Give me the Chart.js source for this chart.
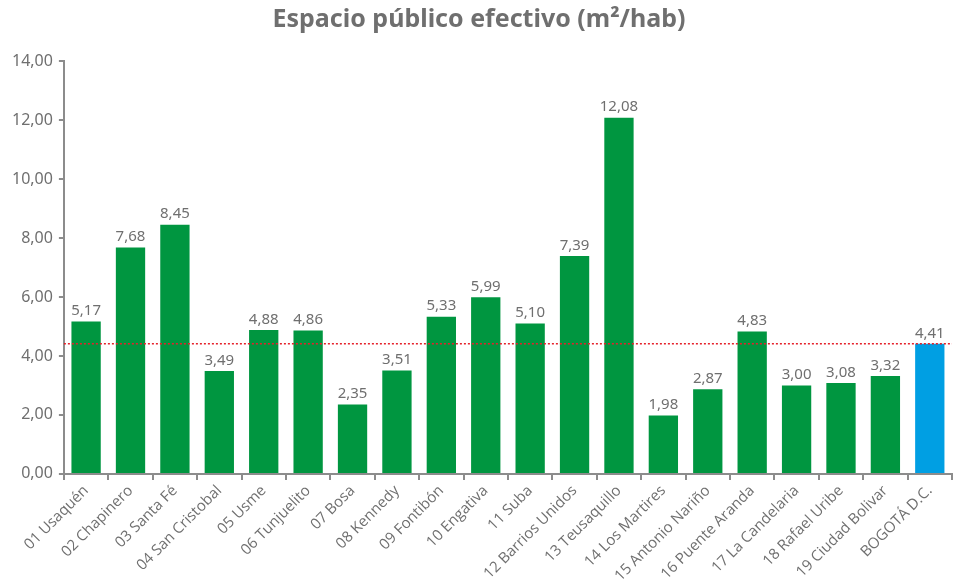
<!DOCTYPE html>
<html>
<head>
<meta charset="utf-8">
<script src="https://cdn.jsdelivr.net/npm/chart.js@4/dist/chart.umd.min.js"></script>
<style>
  html, body { margin: 0; padding: 0; background: #fff; }
  #wrap { width: 956px; height: 587px; position: relative; }
</style>
</head>
<body>
<div id="wrap"><canvas id="Chart1"></canvas></div>
<script>
var localidades = ["01 Usaquén", "02 Chapinero", "03 Santa Fé", "04 San Cristobal", "05 Usme",
    "06 Tunjuelito", "07 Bosa", "08 Kennedy", "09 Fontibón", "10 Engativa", "11 Suba",
    "12 Barrios Unidos", "13 Teusaquillo", "14 Los Martires", "15 Antonio Nariño",
    "16 Puente Aranda", "17 La Candelaria", "18 Rafael Uribe", "19 Ciudad Bolivar", "BOGOTÁ D.C."];
var epe = [5.17, 7.68, 8.45, 3.49, 4.88, 4.86, 2.35, 3.51, 5.33, 5.99, 5.10, 7.39, 12.08,
    1.98, 2.87, 4.83, 3.00, 3.08, 3.32, 4.41];
var promedio = 4.41;
var y_ticks = [0, 2, 4, 6, 8, 10, 12, 14];

var verde = '#009640';
var azul = '#009FE3';
var gris = '#6f6f6f';

function fmt(v) {
    return v.toFixed(2).replace('.', ',');
}

var colores = localidades.map(function (l) {
    return l === "BOGOTÁ D.C." ? azul : verde;
});

// etiquetas de valor encima de cada barra
var valueLabels = {
    id: 'valueLabels',
    afterDatasetsDraw: function (chart) {
        var ctx = chart.ctx;
        var meta = chart.getDatasetMeta(0);
        ctx.save();
        ctx.font = '15px "Noto Sans"';
        ctx.fillStyle = gris;
        ctx.textAlign = 'center';
        ctx.textBaseline = 'bottom';
        meta.data.forEach(function (bar, i) {
            ctx.fillText(fmt(epe[i]), bar.x, bar.y - 3);
        });
        ctx.restore();
    }
};

// linea punteada del promedio de Bogotá
var lineaPromedio = {
    id: 'lineaPromedio',
    afterDatasetsDraw: function (chart) {
        var ctx = chart.ctx;
        var area = chart.chartArea;
        var y = chart.scales.y.getPixelForValue(promedio);
        ctx.save();
        ctx.strokeStyle = '#e5202a';
        ctx.lineWidth = 1.5;
        ctx.setLineDash([2, 2]);
        ctx.beginPath();
        ctx.moveTo(area.left, y);
        ctx.lineTo(area.right, y);
        ctx.stroke();
        ctx.restore();
    }
};

var ctx = document.getElementById('Chart1').getContext('2d');
var myChart = new Chart(ctx, {
    type: 'bar',
    data: {
        labels: localidades,
        datasets: [{
            label: 'Espacio público efectivo',
            data: epe,
            backgroundColor: colores,
            categoryPercentage: 0.66,
            barPercentage: 1.0
        }]
    },
    options: {
        responsive: true,
        maintainAspectRatio: false,
        animation: false,
        layout: { padding: { left: 6, right: 4, top: 0, bottom: 0 } },
        plugins: {
            legend: { display: false },
            tooltip: { enabled: false },
            title: {
                display: true,
                text: 'Espacio público efectivo (m²/hab)',
                color: gris,
                font: { family: '"Noto Sans"', size: 25, weight: 'bold' },
                padding: { top: 5, bottom: 26 }
            }
        },
        scales: {
            x: {
                border: { color: '#8c8c8c', width: 2 },
                grid: { display: true, drawOnChartArea: false, offset: true, tickLength: 6, color: '#8c8c8c', lineWidth: 2 },
                ticks: {
                    color: gris,
                    font: { family: '"Open Sans"', size: 15 },
                    minRotation: 45,
                    maxRotation: 45,
                    autoSkip: false,
                    padding: 2
                }
            },
            y: {
                min: 0,
                max: 14,
                border: { color: '#8c8c8c', width: 2 },
                grid: { display: true, drawOnChartArea: false, tickLength: 5, color: '#8c8c8c', lineWidth: 2 },
                afterBuildTicks: function (axis) {
                    axis.ticks = y_ticks.map(function (v) { return { value: v }; });
                },
                ticks: {
                    color: gris,
                    font: { family: '"Noto Sans"', size: 16 },
                    padding: 6,
                    callback: function (v) { return fmt(v); }
                }
            }
        }
    },
    plugins: [valueLabels, lineaPromedio]
});
</script>
</body>
</html>
